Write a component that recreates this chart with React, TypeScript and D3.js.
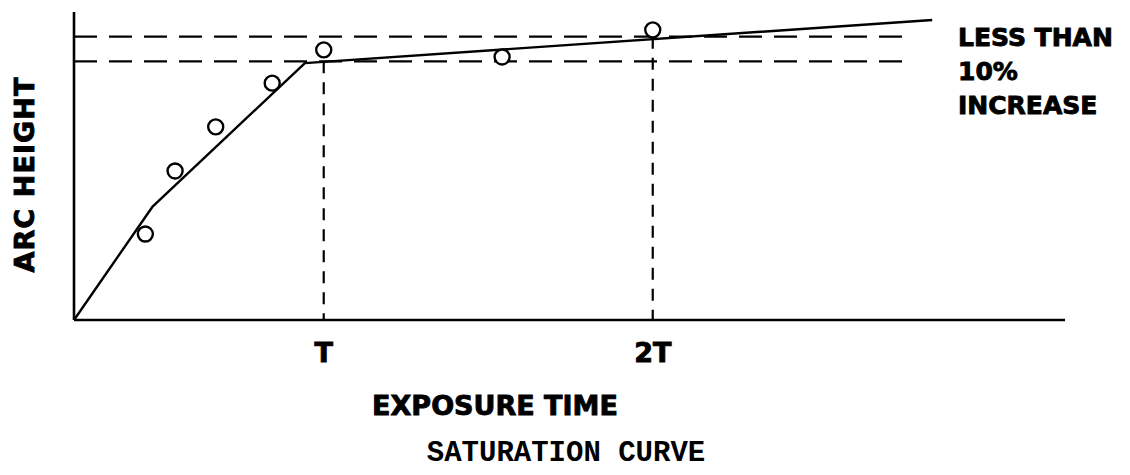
import { useMemo } from 'react';
import * as d3 from 'd3';

// exposure time / arc height in arbitrary units
const fitX = [0, 7.9, 23.3, 86.6];
const fitY = [0, 36.7, 83.4, 97.4];
const sampleX = [7.2, 10.2, 14.3, 20.0, 25.2, 43.2, 58.4];
const sampleY = [27.9, 48.4, 62.7, 76.9, 87.7, 85.4, 94.2];
const tickValues = [25.2, 58.4];
const tickLabels = ['T', '2T'];
const refLevels = [84, 92]; // saturation level and +10%
const refEnd = 84.2;
const noteLines = ['LESS THAN', '10%', 'INCREASE'];

const W = 1130;
const H = 475;
const BOLD = '"DejaVu Sans", Verdana, sans-serif';

export default function App() {
  const x = useMemo(() => d3.scaleLinear().domain([0, 100]).range([74, 1065]), []);
  const y = useMemo(() => d3.scaleLinear().domain([0, 100]).range([320, 12]), []);

  const fit = d3
    .line<number>()
    .x((d) => x(d))
    .y((_, i) => y(fitY[i]))(fitX);

  const heavy = { fontFamily: BOLD, fontWeight: 'bold', stroke: '#000', strokeWidth: 0.9 };

  return (
    <svg
      width={W}
      height={H}
      style={{ position: 'absolute', left: 0, top: 0, background: '#fff' }}
    >
      {/* reference levels */}
      {refLevels.map((lv) => (
        <line
          key={lv}
          x1={x(0)}
          x2={x(refEnd)}
          y1={y(lv)}
          y2={y(lv)}
          stroke="#000"
          strokeWidth={2.2}
          strokeDasharray="23 12"
        />
      ))}

      {/* drop lines at T and 2T */}
      {tickValues.map((t, i) => (
        <line
          key={t}
          x1={x(t)}
          x2={x(t)}
          y1={y(refLevels[i])}
          y2={y(0)}
          stroke="#000"
          strokeWidth={2.2}
          strokeDasharray="12 9"
        />
      ))}

      {/* axes */}
      <line x1={x(0)} x2={x(0)} y1={y(100)} y2={y(0)} stroke="#000" strokeWidth={2.6} />
      <line x1={x(0)} x2={x(100)} y1={y(0)} y2={y(0)} stroke="#000" strokeWidth={2.6} />

      <path d={fit || ''} fill="none" stroke="#000" strokeWidth={2.4} strokeLinejoin="round" />

      {sampleX.map((sx, i) => (
        <circle
          key={i}
          cx={x(sx)}
          cy={y(sampleY[i])}
          r={7.5}
          fill="#fff"
          stroke="#000"
          strokeWidth={2.4}
        />
      ))}

      {/* tick labels */}
      {tickValues.map((t, i) => (
        <text key={t} x={x(t)} y={362} textAnchor="middle" fontSize={27} {...heavy}>
          {tickLabels[i]}
        </text>
      ))}

      <text x={495} y={415} textAnchor="middle" fontSize={27} {...heavy}>
        EXPOSURE TIME
      </text>

      <text
        transform="translate(34,175) rotate(-90)"
        textAnchor="middle"
        fontSize={27}
        textLength={195}
        {...heavy}
      >
        ARC HEIGHT
      </text>

      {noteLines.map((s, i) => (
        <text key={s} x={958} y={46 + i * 34} fontSize={25} {...heavy}>
          {s}
        </text>
      ))}

      <text
        x={566}
        y={461}
        textAnchor="middle"
        fontFamily='"Courier New", "Liberation Mono", monospace'
        fontSize={29}
        fontWeight="bold"
      >
        SATURATION CURVE
      </text>
    </svg>
  );
}
